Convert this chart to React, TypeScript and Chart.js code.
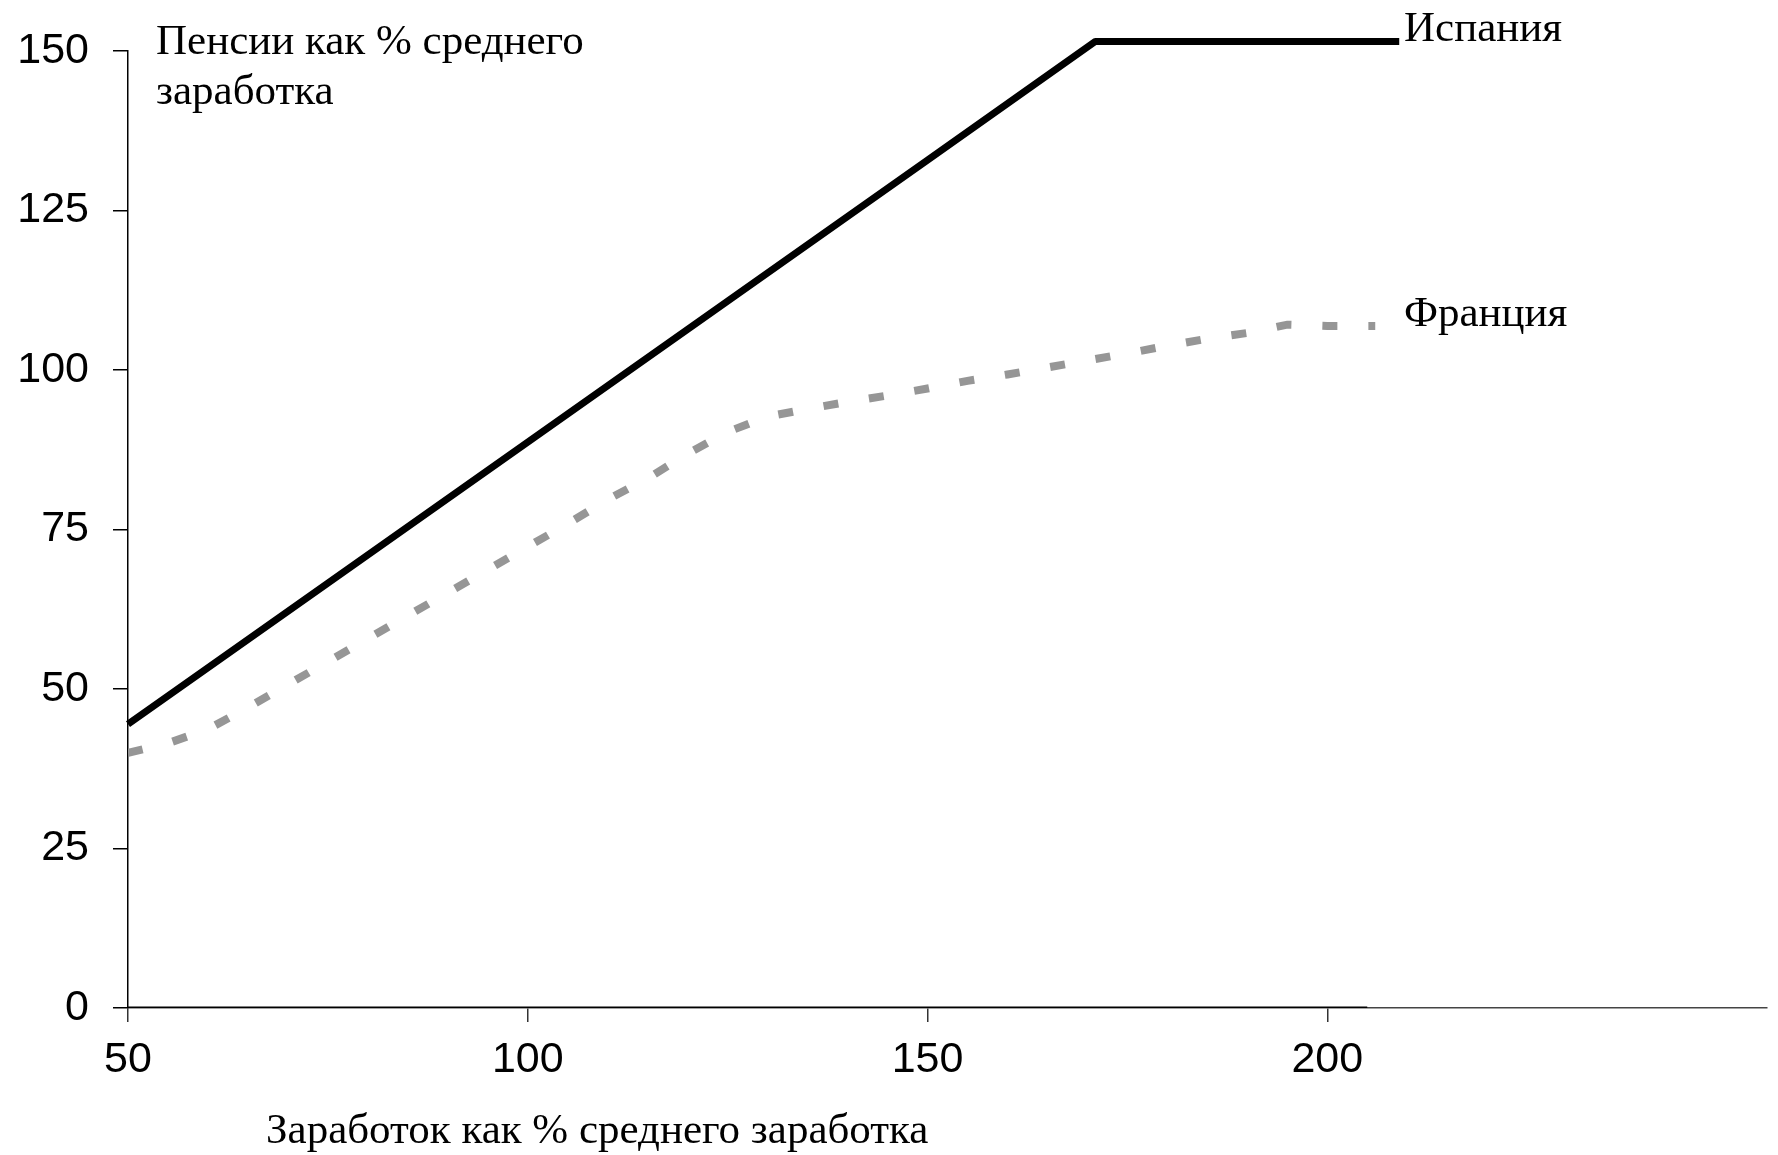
import React, { useEffect, useRef } from 'react';
import { Chart, registerables } from 'chart.js';

Chart.register(...registerables);

// ---- data ----
const spainX = [50, 75, 100, 125, 150, 171, 209];
const spainY = [44.5, 66.6, 88.7, 110.8, 132.9, 151.5, 151.5];

const franceX = [50, 55, 60, 65, 70, 75, 80, 85, 90, 95, 100, 105, 110, 115, 120, 125, 130, 135, 140, 145, 150, 155, 160, 165, 170, 175, 180, 185, 190, 195, 200, 206];
const franceY = [40, 41.5, 43.7, 47.1, 50.7, 54.3, 57.9, 61.5, 65.1, 68.7, 72.3, 75.9, 79.7, 83.0, 86.9, 90.3, 92.7, 93.9, 95.0, 96.0, 97.1, 98.3, 99.3, 100.4, 101.5, 102.6, 103.8, 104.9, 105.8, 107.1, 106.9, 106.9];

const baselineX = [50, 205];
const baselineY = [0, 0];

const xTicks = [50, 100, 150, 200];
const yTicks = [0, 25, 50, 75, 100, 125, 150];

const seriesNames = ['Испания', 'Франция'];
const yTitleLines = ['Пенсии как % среднего', 'заработка'];
const xTitle = 'Заработок как % среднего заработка';

const W = 1778;
const H = 1155;

const pts = (xs: number[], ys: number[]) => xs.map((x, i) => ({ x, y: ys[i] }));

const textPlugin = {
  id: 'textPlugin',
  afterDraw(chart: any) {
    const ctx = chart.ctx;
    const ys = chart.scales.y;
    ctx.save();
    ctx.fillStyle = '#000';
    ctx.font = '43px "Liberation Serif", "Times New Roman", serif';
    ctx.textAlign = 'left';
    ctx.textBaseline = 'alphabetic';
    ctx.fillText(yTitleLines[0], 156, 54);
    ctx.fillText(yTitleLines[1], 156, 104);
    ctx.fillText(xTitle, 266, 1143);
    const sl = spainX.length - 1;
    ctx.fillText(seriesNames[0], 1404, ys.getPixelForValue(spainY[sl]));
    const fl = franceX.length - 1;
    ctx.fillText(seriesNames[1], 1404, ys.getPixelForValue(franceY[fl]));
    ctx.restore();
  },
};

export default function App() {
  const ref = useRef<HTMLCanvasElement | null>(null);

  useEffect(() => {
    if (!ref.current) return;
    const tickFont = { family: '"Liberation Sans", Arial, sans-serif', size: 43 };
    const chart = new Chart(ref.current, {
      type: 'line',
      data: {
        datasets: [
          {
            label: 'base',
            data: pts(baselineX, baselineY),
            borderColor: '#000',
            borderWidth: 3,
            pointRadius: 0,
          },
          {
            label: seriesNames[1],
            data: pts(franceX, franceY),
            borderColor: '#969696',
            borderWidth: 8,
            borderDash: [15, 31],
            borderCapStyle: 'butt',
            pointRadius: 0,
            tension: 0,
          },
          {
            label: seriesNames[0],
            data: pts(spainX, spainY),
            borderColor: '#000',
            borderWidth: 7,
            borderJoinStyle: 'round',
            pointRadius: 0,
            tension: 0,
            clip: false,
          },
        ],
      },
      options: {
        animation: false,
        responsive: false,
        devicePixelRatio: 1,
        layout: { padding: { left: 0, right: 11, top: 51, bottom: 0 } },
        plugins: { legend: { display: false }, tooltip: { enabled: false } },
        scales: {
          x: {
            type: 'linear',
            min: 50,
            max: 255,
            afterBuildTicks: (s: any) => {
              s.ticks = xTicks.map((v) => ({ value: v }));
            },
            afterFit: (s: any) => {
              s.height = H - 1008;
            },
            ticks: { font: tickFont, color: '#000', padding: 12, maxRotation: 0, autoSkip: false },
            grid: { display: true, drawOnChartArea: false, drawTicks: true, tickLength: 14, color: '#333', lineWidth: 1.5 },
            border: { display: true, color: '#444', width: 1.5 },
          },
          y: {
            type: 'linear',
            min: 0,
            max: 150,
            afterBuildTicks: (s: any) => {
              s.ticks = yTicks.map((v) => ({ value: v }));
            },
            afterFit: (s: any) => {
              s.width = 128;
            },
            ticks: { font: tickFont, color: '#000', padding: 24, autoSkip: false },
            grid: { display: true, drawOnChartArea: false, drawTicks: true, tickLength: 15, color: '#000', lineWidth: 1.5 },
            border: { display: true, color: '#000', width: 1.5 },
          },
        },
      },
      plugins: [textPlugin],
    } as any);
    return () => chart.destroy();
  }, []);

  return (
    <div style={{ position: 'fixed', left: 0, top: 0, width: W, height: H, background: '#fff' }}>
      <canvas ref={ref} width={W} height={H} style={{ display: 'block', width: W, height: H }} />
    </div>
  );
}
